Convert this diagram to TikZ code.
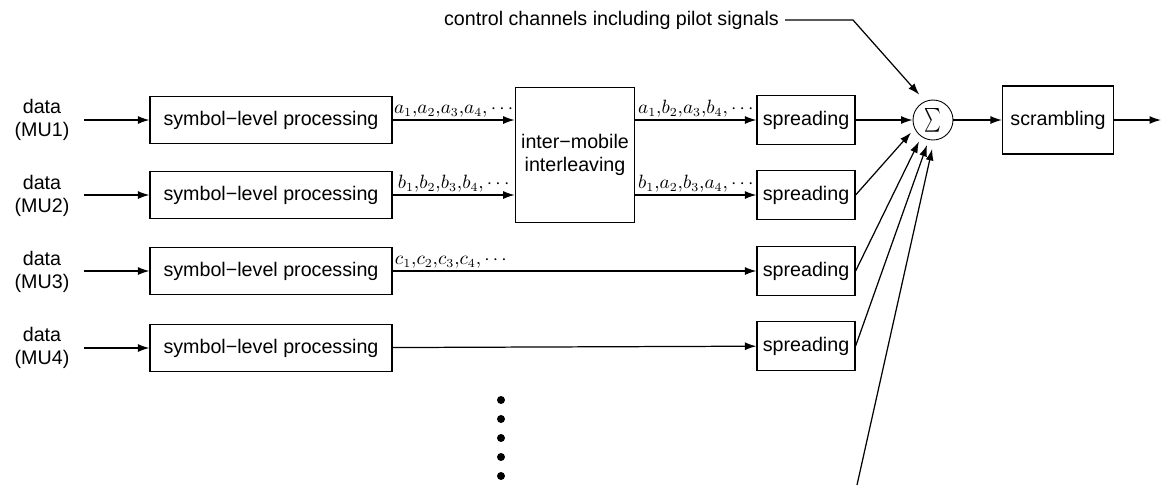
\documentclass[tikz,border=0pt]{standalone}
\usepackage{fontspec}
\setmainfont{Liberation Sans}
\usepackage{tikz}
\usetikzlibrary{arrows.meta}

\tikzset{
  proc/.style={draw, line width=0.7pt, minimum width=4.84cm, minimum height=0.94cm, inner sep=0pt},
  spread/.style={draw, line width=0.7pt, minimum width=1.96cm, minimum height=0.98cm, inner sep=0pt},
  sig/.style={draw, line width=0.5pt, circle, minimum size=0.8cm, inner sep=0pt},
  lbl/.style={font=\fontsize{10.5}{12}\selectfont, inner sep=1pt},
  flow/.style={->, line width=0.7pt}
}

\begin{document}
\begin{tikzpicture}[x=0.02cm, y=-0.02cm, >={Latex[length=6.5pt,width=4.5pt]}, font=\fontsize{11.2}{13.4}\selectfont]
	\useasboundingbox (0,0) rectangle (1161,485);

	\node[align=center] (d1) at (42,120) {data\\(MU1)};
	\node[align=center] (d2) at (42,196) {data\\(MU2)};
	\node[align=center] (d3) at (42,272) {data\\(MU3)};
	\node[align=center] (d4) at (42,348) {data\\(MU4)};

	\node[proc] (p1) at (271,120) {symbol−level processing};
	\node[proc] (p2) at (271,195) {symbol−level processing};
	\node[proc] (p3) at (271,271) {symbol−level processing};
	\node[proc] (p4) at (271,348) {symbol−level processing};

	\node[draw, line width=0.7pt, minimum width=2.34cm, minimum height=2.7cm, align=center] (il) at (575,155) {inter−mobile\\interleaving};

	\node[spread] (s1) at (806,120) {spreading};
	\node[spread] (s2) at (806,195) {spreading};
	\node[spread] (s3) at (806,271) {spreading};
	\node[spread] (s4) at (806,346) {spreading};

	\node[sig] (sum) at (933,120) {\scalebox{0.9}[1.35]{$\sum$}};
	\node[draw, line width=0.7pt, minimum width=2.22cm, minimum height=1.36cm] (scr) at (1058,120) {scrambling};
	\node[anchor=east] (ctl) at (785,20) {control channels including pilot signals};

	\coordinate (in1) at (84,120);
	\coordinate (in2) at (84,195);
	\coordinate (in3) at (84,271);
	\coordinate (in4) at (84,348);
	\coordinate (kink) at (853,20);
	\coordinate (extra) at (857,485);
	\coordinate (out) at (1161,120);

	\draw[flow] (in1) -- (p1);
	\draw[flow] (in2) -- (p2);
	\draw[flow] (in3) -- (p3);
	\draw[flow] (in4) -- (p4);

	\draw[flow] (p1) -- (p1 -| il.west) node[lbl, midway, above] {$a_1{,}a_2{,}a_3{,}a_4{,}\cdots$};
	\draw[flow] (p2) -- (p2 -| il.west) node[lbl, midway, above] {$b_1{,}b_2{,}b_3{,}b_4{,}\cdots$};
	\draw[flow] (il.east |- s1) -- (s1) node[lbl, midway, above] {$a_1{,}b_2{,}a_3{,}b_4{,}\cdots$};
	\draw[flow] (il.east |- s2) -- (s2) node[lbl, midway, above] {$b_1{,}a_2{,}b_3{,}a_4{,}\cdots$};
	\draw[flow] (p3) -- (s3) node[lbl, pos=0, above right] {$c_1{,}c_2{,}c_3{,}c_4{,}\cdots$};
	\draw[flow] (p4) -- (s4);

	\draw[flow] (s1) -- (sum);
	\draw[flow, shorten >=3pt] (s2.east) -- (sum.205);
	\draw[flow, shorten >=3pt] (s3.east) -- (sum.235);
	\draw[flow, shorten >=3pt] (s4.east) -- (sum.258);
	\draw[flow, shorten >=5pt] (extra) -- (sum.273);
	\draw[flow, shorten >=5pt] (ctl.east) -- (kink) -- (sum.113);

	\draw[flow] (sum) -- (scr);
	\draw[flow] (scr) -- (out);

	\foreach \k in {0,...,4}
		\fill (501,400+19*\k) circle (4);

\end{tikzpicture}
\end{document}
